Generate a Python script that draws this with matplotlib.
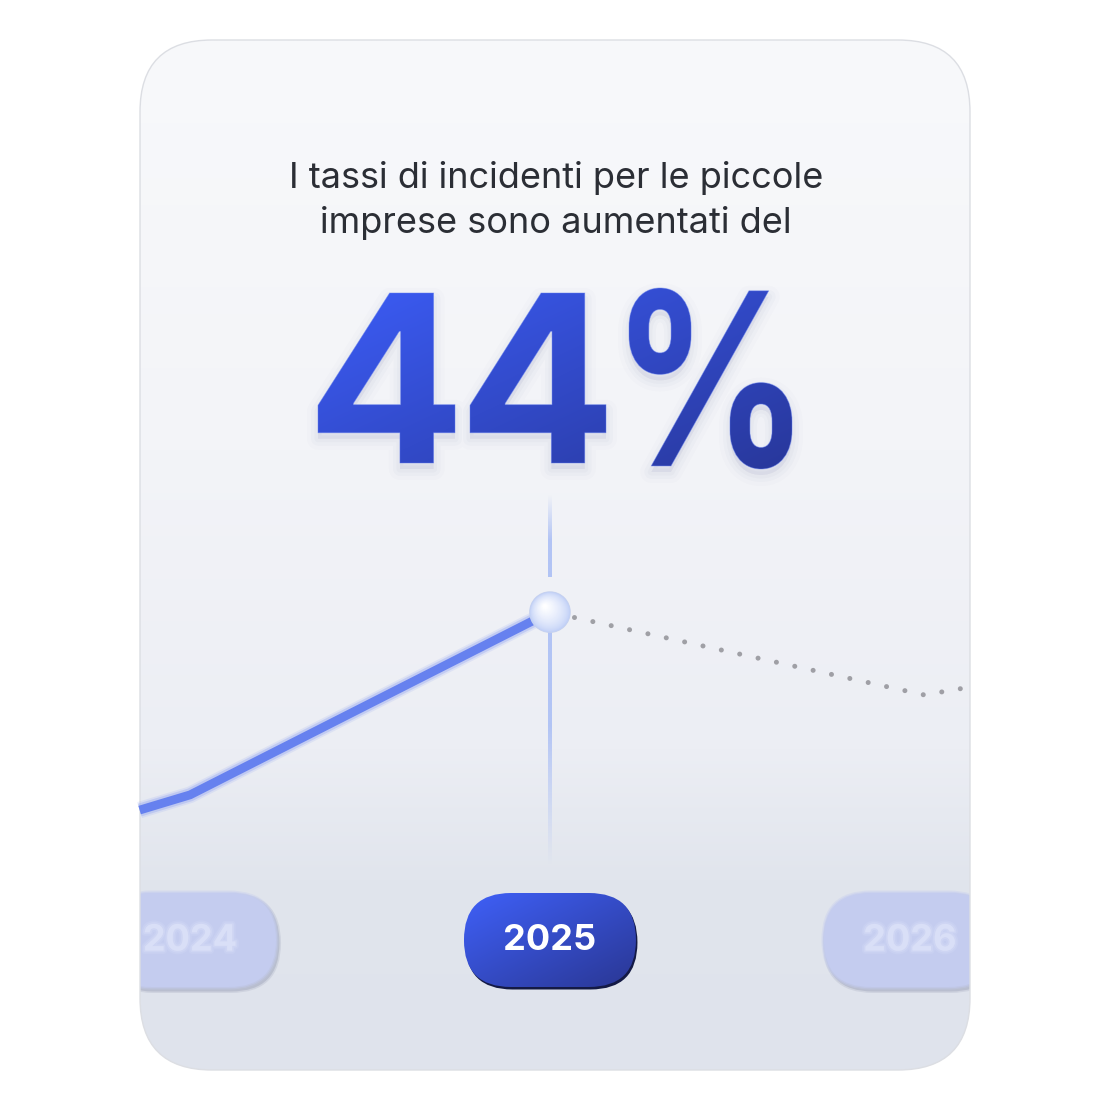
import numpy as np
import matplotlib
matplotlib.use("Agg")
import matplotlib.pyplot as plt
import matplotlib.patheffects as pe
from matplotlib.patches import FancyBboxPatch, PathPatch, Circle
from matplotlib.textpath import TextPath
from matplotlib.font_manager import FontProperties
from matplotlib.transforms import Affine2D, IdentityTransform, TransformedPath
from matplotlib.colors import to_rgb
from matplotlib.path import Path

# data
years_solid = [2023.86, 2024.0, 2025.0]
rate_solid = [18.4, 22.4, 70.5]
years_proj = [2025.0, 2026.04, 2026.15]
rate_proj = [70.5, 48.7, 50.5]
pill_years = [2024, 2025, 2026]
pill_labels = ["2024", "2025", "2026"]
current_year = 2025
title_lines = ["I tassi di incidenti per le piccole", "imprese sono aumentati del"]
big_number = "44%"

W, H = 1111, 1110
fig = plt.figure(figsize=(W / 100, H / 100), dpi=100)
fig.patch.set_facecolor("white")

# pixel axes for the card decoration
ax0 = fig.add_axes([0, 0, 1, 1])
ax0.set_xlim(0, W)
ax0.set_ylim(H, 0)
ax0.axis("off")

# data axes for the line
ax = fig.add_axes([140 / W, (H - 880) / H, 830 / W, 380 / H])
ax.set_xlim(2023.861, 2026.167)
ax.set_ylim(0, 100)
ax.axis("off")
ax.patch.set_alpha(0)


def to_px(x, y):
    d = ax.transData.transform((x, y))
    return ax0.transData.inverted().transform(d)


def mix(c1, c2, t):
    c1 = np.array(to_rgb(c1)); c2 = np.array(to_rgb(c2))
    t = np.asarray(t)[..., None]
    return c1 * (1 - t) + c2 * t


# glyph boxes of the big number in the reference (pixels, y down)
glyph_boxes = [(318, 455, 293, 463), (470, 606, 293, 463), (629, 792, 288, 469)]


def fit_glyphs(path, boxes):
    # group contours into glyphs by x overlap, then fit each glyph into its box
    v = path.vertices.copy()
    c = path.codes
    starts = np.where(c == Path.MOVETO)[0]
    ends = list(starts[1:]) + [len(c)]
    conts = []
    for s, e in zip(starts, ends):
        idx = np.arange(s, e)
        real = idx[c[idx] != Path.CLOSEPOLY]
        conts.append((v[real, 0].min(), v[real, 0].max(), idx, real))
    conts.sort(key=lambda k: k[0])
    groups = []
    for x0, x1, idx, real in conts:
        if groups and x0 < groups[-1][1]:
            groups[-1][1] = max(groups[-1][1], x1)
            groups[-1][2].append(idx)
            groups[-1][3].append(real)
        else:
            groups.append([x0, x1, [idx], [real]])
    out = v.copy()
    for (g0, g1, idxs, reals), (bx0, bx1, by0, by1) in zip(groups, boxes):
        idx = np.concatenate(idxs)
        real = np.concatenate(reals)
        ymin, ymax = v[real, 1].min(), v[real, 1].max()
        out[idx, 0] = bx0 + (v[idx, 0] - g0) * (bx1 - bx0) / (g1 - g0)
        out[idx, 1] = by0 + (v[idx, 1] - ymin) * (by1 - by0) / (ymax - ymin)
    return Path(out, c)


class FittedGradient(pe.AbstractPathEffect):
    """Draws the text glyphs fitted to the reference boxes, filled with a gradient."""

    def __init__(self, c1, c2, edge):
        super().__init__()
        self.c1, self.c2, self.edge = c1, c2, edge

    def draw_path(self, renderer, gc, tpath, affine, rgbFace=None):
        to_pix = affine + ax0.transData.inverted()
        p = fit_glyphs(to_pix.transform_path(tpath), glyph_boxes)
        pd = ax0.transData.transform_path(p)
        ext = pd.get_extents()
        x0, y0 = int(np.floor(ext.x0)) - 1, int(np.floor(ext.y0)) - 1
        w = int(np.ceil(ext.x1)) - x0 + 2
        h = int(np.ceil(ext.y1)) - y0 + 2
        # rows run bottom to top here, so the top of the glyphs is gy = 0
        gx, gy = np.meshgrid(np.linspace(0, 1, w), np.linspace(1, 0, h))
        rgb = mix(self.c1, self.c2, np.clip(0.55 * gx + 0.45 * gy, 0, 1))
        img = np.ascontiguousarray(np.dstack([rgb * 255, np.full((h, w), 255)]).astype(np.uint8))
        gc2 = renderer.new_gc()
        gc2.copy_properties(gc)
        gc2.set_alpha(1.0)
        gc2.set_clip_path(TransformedPath(pd, IdentityTransform()))
        renderer.draw_image(gc2, x0, y0, img)
        gc2.restore()
        gc3 = renderer.new_gc()
        gc3.copy_properties(gc)
        gc3.set_foreground(self.edge)
        gc3.set_alpha(0.5)
        gc3.set_linewidth(0.6)
        renderer.draw_path(gc3, pd, IdentityTransform(), None)
        gc3.restore()


card = FancyBboxPatch((140, 40), 830, 1030, boxstyle="round,pad=0,rounding_size=72",
                      transform=ax0.transData, facecolor="none", edgecolor="#DCDEE3",
                      lw=1.0, zorder=20)
ax0.add_patch(card)

# card background gradient
ys = np.linspace(40, 1070, 400)
stops_y = [40, 450, 750, 880, 1070]
stops_c = [to_rgb(c) for c in ["#F8F9FB", "#F3F4F8", "#ECEEF4", "#E1E5ED", "#DFE3EC"]]
col = np.stack([np.interp(ys, stops_y, [c[i] for c in stops_c]) for i in range(3)], axis=-1)
bg = np.repeat(col[:, None, :], 10, axis=1)
im = ax0.imshow(bg, extent=(140, 970, 1070, 40), aspect="auto", zorder=0, interpolation="bilinear")
im.set_clip_path(card)

# title
for i, line in enumerate(title_lines):
    ax0.text(556, 188 + i * 45, line, ha="center", va="baseline", fontsize=26,
             family="Inter", color="#2B2E35", zorder=5)

# big number as real text, drawn with a gradient fill
fp = FontProperties(family="Inter", weight="bold")
shadow_path = fit_glyphs(Affine2D().scale(1, -1).transform_path(
    TextPath((0, 0), big_number, size=100, prop=fp)), glyph_boxes)
for lw, a in [(16, 0.012), (10, 0.018), (5, 0.025)]:
    sh = PathPatch(Affine2D().translate(0, 6).transform_path(shadow_path), facecolor="#1E2A70",
                   edgecolor="#1E2A70", lw=lw, alpha=a, zorder=4, joinstyle="round")
    ax0.add_patch(sh)
ax0.text(555, 463, big_number, ha="center", va="baseline", fontsize=168,
         family="Inter", weight="bold", color="#3149D2", zorder=6,
         path_effects=[FittedGradient("#3C5DF8", "#28379A", "#6580F2")])

# vertical marker line at the current year
vx, vy = to_px(current_year, rate_solid[-1])
vcol = np.array(to_rgb("#B2C4F5"))
yy = np.linspace(495, 577, 200)
a_top = np.clip((yy - 495) / 45, 0, 1)
strip = np.zeros((200, 1, 4)); strip[..., :3] = vcol; strip[:, 0, 3] = a_top
ax0.imshow(strip, extent=(vx - 1.6, vx + 1.6, 577, 495), aspect="auto", zorder=3)
yy = np.linspace(628, 865, 300)
a_bot = np.clip((865 - yy) / 140, 0, 1)
strip = np.zeros((300, 1, 4)); strip[..., :3] = vcol; strip[:, 0, 3] = a_bot
ax0.imshow(strip, extent=(vx - 1.6, vx + 1.6, 865, 628), aspect="auto", zorder=3)

# solid line with a soft blur on the far part
clip_left = plt.Rectangle((130, 0), 280, H, transform=ax0.transData, facecolor="none")
ax0.add_patch(clip_left)
for lw, a in [(12, 0.15), (9.5, 0.3)]:
    ln, = ax.plot(years_solid, rate_solid, color="#8499F2", lw=lw, alpha=a,
                  solid_capstyle="butt", zorder=4, clip_on=False)
    ln.set_clip_path(clip_left)
ln, = ax.plot(years_solid, rate_solid, color="#6681EF", lw=6.3, solid_capstyle="butt",
              solid_joinstyle="round", zorder=5, clip_on=False)
ln.set_clip_path(card)

# projected dotted line
dl, = ax.plot(years_proj, rate_proj, color="#97979D", lw=3.6, linestyle=(2.5, (0.01, 3.75)),
              dash_capstyle="round", zorder=5, clip_on=False, alpha=0.9)
dl.set_clip_path(card)

# sphere marker, drawn in the data axes so it sits over the line
r = 20
ax.add_patch(Circle((vx, vy), r + 0.8, transform=ax0.transData, facecolor="#C6D1EE",
                    edgecolor="none", zorder=7, clip_on=False))
n = 24
for k in range(n):
    f = k / (n - 1)
    rk = r * (1 - 0.9 * f)
    ax.add_patch(Circle((vx - 5 * f, vy - 6 * f), rk, transform=ax0.transData,
                        facecolor=mix("#C2D1F7", "#FFFFFF", f ** 0.7), edgecolor="none",
                        zorder=8, clip_on=False))

# year pills
pw, ph = 172, 94
py0 = 893
for yr, lab in zip(pill_years, pill_labels):
    cx, _ = to_px(yr, 0)
    x0 = cx - pw / 2
    if yr == current_year:
        shadow = FancyBboxPatch((x0 + 1.5, py0 + 2.5), pw, ph,
                                boxstyle="round,pad=0,rounding_size=47", facecolor="#141A45",
                                edgecolor="none", zorder=9)
        ax0.add_patch(shadow)
        pill = FancyBboxPatch((x0, py0), pw, ph, boxstyle="round,pad=0,rounding_size=47",
                              facecolor="none", edgecolor="none", zorder=10)
        ax0.add_patch(pill)
        gx, gy = np.meshgrid(np.linspace(0, 1, 100), np.linspace(0, 1, 60))
        t = np.clip(0.5 * gx + 0.5 * gy, 0, 1)
        pim = ax0.imshow(mix("#3F60F8", "#2A3794", t), extent=(x0, x0 + pw, py0 + ph, py0),
                         aspect="auto", zorder=10, interpolation="bilinear")
        pim.set_clip_path(pill)
        ax0.text(cx, py0 + ph / 2 + 1, lab, ha="center", va="center", fontsize=26,
                 family="Inter", weight="bold", color="white", zorder=11)
    else:
        for d, a in [(3.0, 0.25), (1.5, 0.45)]:
            sh = FancyBboxPatch((x0 + 2 - d, py0 + 3 - d), pw + 2 * d, ph + 2 * d,
                                boxstyle="round,pad=0,rounding_size=%g" % (47 + d),
                                facecolor="#A0A6BC", edgecolor="none", alpha=a, zorder=9)
            sh.set_clip_path(card)
            ax0.add_patch(sh)
        for d, a in [(2.5, 0.35), (1.2, 0.6), (0, 1.0)]:
            p = FancyBboxPatch((x0 - d, py0 - d), pw + 2 * d, ph + 2 * d,
                               boxstyle="round,pad=0,rounding_size=%g" % (47 + d),
                               facecolor="#C4CCEF", edgecolor="none", alpha=a, zorder=10)
            p.set_clip_path(card)
            ax0.add_patch(p)
        blur = [pe.Stroke(linewidth=5, foreground="#CDD4F3", alpha=0.5),
                pe.Stroke(linewidth=2.5, foreground="#D3D9F5", alpha=0.6), pe.Normal()]
        tx = ax0.text(cx, py0 + ph / 2 + 1, lab, ha="center", va="center",
                      fontsize=26, family="Inter", weight="bold", color="#D9DFF7",
                      zorder=11, path_effects=blur)
        tx.set_clip_path(card)

fig.savefig("out.png", dpi=100, facecolor="white")
